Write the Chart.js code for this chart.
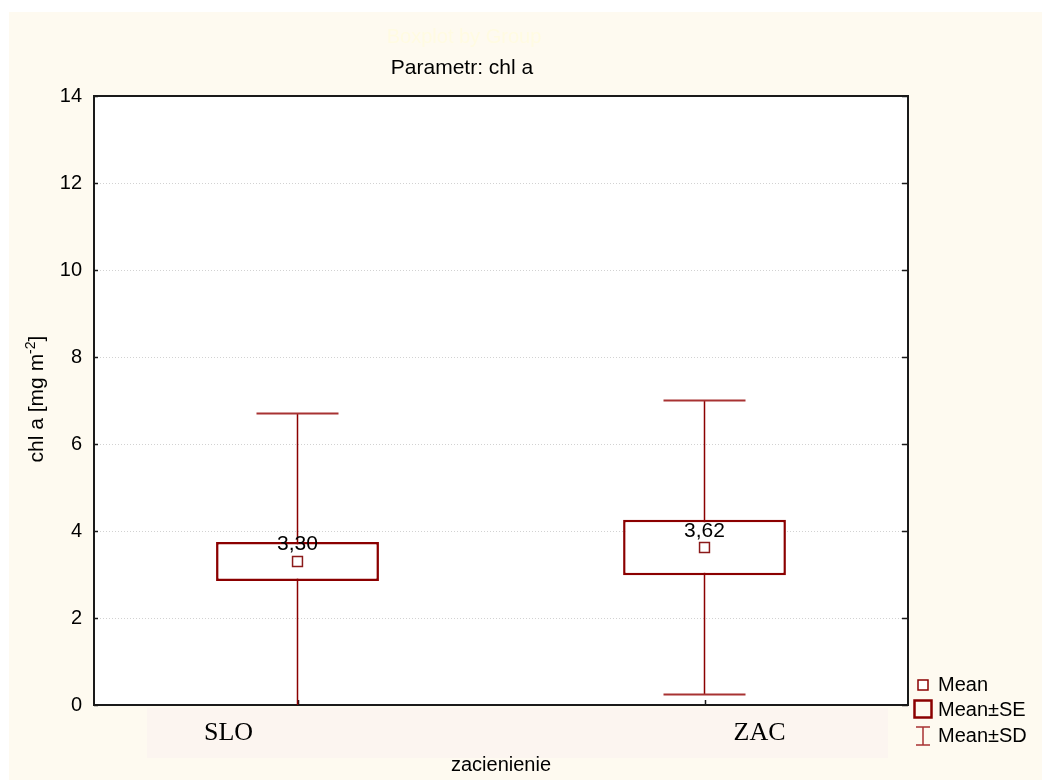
<!DOCTYPE html>
<html>
<head>
<meta charset="utf-8">
<script src="https://cdn.jsdelivr.net/npm/chart.js@4.4.1/dist/chart.umd.min.js"></script>
<style>
  html, body { margin: 0; padding: 0; background: #ffffff; }
  canvas { display: block; }
</style>
</head>
<body>
<canvas id="c" width="1042" height="780"></canvas>
<script>
// Group means with standard errors and standard deviations of chl a
const categories = ['SLO', 'ZAC'];
const means = [3.30, 3.62];
const stdErrors = [0.45, 0.64];
const stdDevs = [3.40, 3.38];
const yTickValues = [0, 2, 4, 6, 8, 10, 12, 14];

const SANS = '"Liberation Sans", Arial, sans-serif';
const SERIF = '"Liberation Serif", "Times New Roman", serif';
const DARK_RED = '#8b0000';
const CAP_RED = '#a83232';

const fmt = v => v.toFixed(2).replace('.', ',');

const decor = {
  id: 'decor',
  beforeDraw(chart) {
    const { ctx, chartArea: a } = chart;
    ctx.save();
    ctx.fillStyle = '#ffffff';
    ctx.fillRect(0, 0, chart.width, chart.height);
    ctx.fillStyle = '#fefaf0';
    ctx.fillRect(9, 12, chart.width - 9, chart.height - 12);
    // band behind the category labels
    ctx.fillStyle = '#fcf5f0';
    ctx.fillRect(147, a.bottom + 3, 741, 50);
    ctx.fillStyle = '#ffffff';
    ctx.fillRect(a.left, a.top, a.right - a.left, a.bottom - a.top);

    // titles
    ctx.textAlign = 'center';
    ctx.textBaseline = 'middle';
    ctx.font = '20px ' + SANS;
    ctx.fillStyle = '#fffbe2';
    ctx.fillText('Boxplot by Group', 464, 37);
    ctx.font = '21px ' + SANS;
    ctx.fillStyle = '#000000';
    ctx.fillText('Parametr: chl a', 462, 68);

    // y axis title with superscript exponent
    ctx.translate(43, 399);
    ctx.rotate(-Math.PI / 2);
    ctx.textBaseline = 'alphabetic';
    ctx.textAlign = 'left';
    const mainFont = '21px ' + SANS, supFont = '14px ' + SANS;
    ctx.font = mainFont;
    const w1 = ctx.measureText('chl a [mg m').width;
    const w3 = ctx.measureText(']').width;
    ctx.font = supFont;
    const w2 = ctx.measureText('-2').width;
    let x0 = -(w1 + w2 + w3) / 2;
    ctx.font = mainFont;
    ctx.fillText('chl a [mg m', x0, 0);
    ctx.font = supFont;
    ctx.fillText('-2', x0 + w1, -8);
    ctx.font = mainFont;
    ctx.fillText(']', x0 + w1 + w2, 0);
    ctx.restore();
  },
  beforeDatasetsDraw(chart) {
    const { ctx, chartArea: a, scales } = chart;
    const xs = scales.x, ys = scales.y;
    ctx.save();
    // frame
    ctx.strokeStyle = '#1a1a1a';
    ctx.lineWidth = 2;
    ctx.strokeRect(a.left, a.top, a.right - a.left, a.bottom - a.top);
    // inward ticks on the left, right and bottom edges
    ctx.lineWidth = 1.5;
    ctx.beginPath();
    yTickValues.forEach(v => {
      const y = Math.round(ys.getPixelForValue(v)) + 0.5;
      ctx.moveTo(a.left, y);
      ctx.lineTo(a.left + 4, y);
      ctx.moveTo(a.right - 6, y);
      ctx.lineTo(a.right, y);
    });
    categories.forEach((c, i) => {
      const x = Math.round(xs.getPixelForValue(i)) + 0.5;
      ctx.moveTo(x, a.bottom);
      ctx.lineTo(x, a.bottom - 5);
    });
    ctx.stroke();

    // mean ± SD whiskers
    ctx.beginPath();
    ctx.rect(a.left, a.top, a.right - a.left, a.bottom - a.top);
    ctx.clip();
    means.forEach((m, i) => {
      const x = xs.getPixelForValue(i);
      const yTop = ys.getPixelForValue(m + stdDevs[i]);
      const yBot = ys.getPixelForValue(m - stdDevs[i]);
      ctx.strokeStyle = DARK_RED;
      ctx.lineWidth = 1.5;
      ctx.beginPath();
      ctx.moveTo(x, yTop);
      ctx.lineTo(x, yBot);
      ctx.stroke();
      ctx.strokeStyle = CAP_RED;
      ctx.lineWidth = 2;
      ctx.beginPath();
      ctx.moveTo(x - 41, yTop); ctx.lineTo(x + 41, yTop);
      ctx.moveTo(x - 41, yBot); ctx.lineTo(x + 41, yBot);
      ctx.stroke();
    });
    ctx.restore();
  },
  afterDatasetsDraw(chart) {
    const { ctx, chartArea: a, scales } = chart;
    const xs = scales.x, ys = scales.y;
    ctx.save();
    // value labels above the means
    ctx.fillStyle = '#000000';
    ctx.font = '21px ' + SANS;
    ctx.textAlign = 'center';
    ctx.textBaseline = 'alphabetic';
    means.forEach((m, i) => {
      ctx.fillText(fmt(m), xs.getPixelForValue(i), ys.getPixelForValue(m) - 11);
    });

    // category labels
    const labelShift = [-69, 55];
    ctx.font = '26px ' + SERIF;
    ctx.textBaseline = 'middle';
    categories.forEach((c, i) => {
      ctx.fillText(c, xs.getPixelForValue(i) + labelShift[i], a.bottom + 28);
    });

    // legend
    const lx = 923;
    ctx.strokeStyle = DARK_RED;
    ctx.fillStyle = '#ffffff';
    ctx.lineWidth = 1.5;
    ctx.fillRect(lx - 5, 680, 10, 10);
    ctx.strokeRect(lx - 5, 680, 10, 10);
    ctx.lineWidth = 2.5;
    ctx.strokeRect(lx - 8.5, 700.5, 17, 17);
    ctx.strokeStyle = CAP_RED;
    ctx.lineWidth = 1.5;
    ctx.beginPath();
    ctx.moveTo(lx, 727); ctx.lineTo(lx, 745);
    ctx.moveTo(lx - 7, 727); ctx.lineTo(lx + 7, 727);
    ctx.moveTo(lx - 7, 745); ctx.lineTo(lx + 7, 745);
    ctx.stroke();
    ctx.fillStyle = '#000000';
    ctx.font = '20px ' + SANS;
    ctx.textAlign = 'left';
    ctx.textBaseline = 'middle';
    ctx.fillText('Mean', 938, 685);
    ctx.fillText('Mean\u00b1SE', 938, 710);
    ctx.fillText('Mean\u00b1SD', 938, 736);
    ctx.restore();
  }
};

new Chart(document.getElementById('c'), {
  type: 'bar',
  data: {
    labels: categories,
    datasets: [
      {
        type: 'line',
        label: 'Mean',
        data: means,
        showLine: false,
        pointStyle: 'rect',
        pointRadius: 7,
        pointBorderWidth: 1.5,
        pointBackgroundColor: '#ffffff',
        pointBorderColor: '#8b1a1a',
        order: 1
      },
      {
        label: 'Mean\u00b1SE',
        data: means.map((m, i) => [m - stdErrors[i], m + stdErrors[i]]),
        backgroundColor: '#ffffff',
        borderColor: DARK_RED,
        borderWidth: 2.5,
        borderSkipped: false,
        barPercentage: 0.4,
        categoryPercentage: 1,
        order: 2
      }
    ]
  },
  options: {
    responsive: false,
    animation: false,
    events: [],
    devicePixelRatio: 1,
    layout: { padding: { top: 96, right: 134, left: 0, bottom: 0 } },
    plugins: {
      legend: { display: false },
      title: { display: false },
      tooltip: { enabled: false }
    },
    scales: {
      x: {
        offset: true,
        grid: { display: false },
        border: { display: false },
        ticks: { display: false },
        title: {
          display: true,
          text: 'zacienienie',
          color: '#000000',
          font: { family: SANS, size: 20 },
          padding: { top: 0, bottom: 3 }
        },
        afterFit(s) { s.height = 75; }
      },
      y: {
        min: 0,
        max: 14,
        afterBuildTicks(s) { s.ticks = yTickValues.map(v => ({ value: v })); },
        ticks: {
          color: '#000000',
          font: { family: SANS, size: 20 },
          padding: 12
        },
        grid: {
          color: '#d2d2d2',
          lineWidth: 1,
          drawTicks: false
        },
        border: { display: false, dash: [1, 2] },
        afterFit(s) { s.width = 94; }
      }
    }
  },
  plugins: [decor]
});
</script>
</body>
</html>
